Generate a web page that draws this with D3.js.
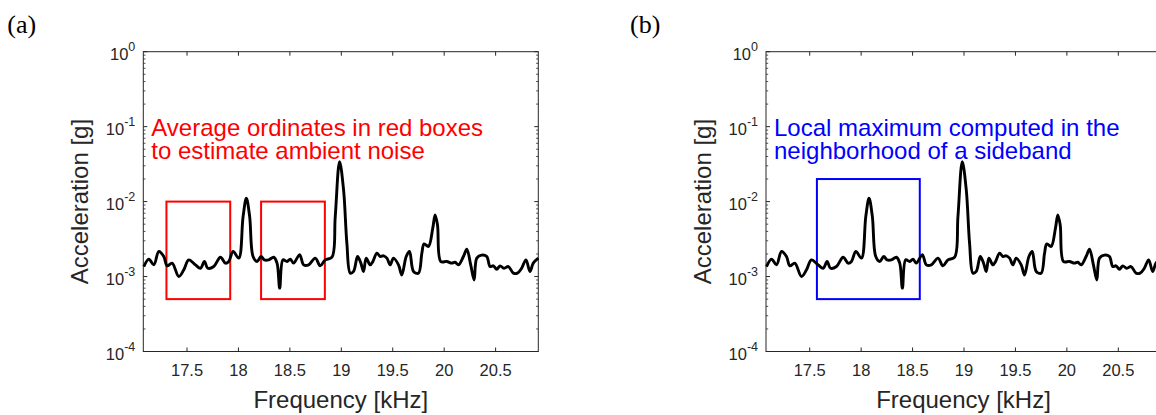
<!DOCTYPE html>
<html>
<head>
<meta charset="utf-8">
<script src="https://cdn.jsdelivr.net/npm/d3@7"></script>
<style>
  body { margin: 0; background: #fff; }
  svg { display: block; }
  text { font-family: "Liberation Sans", Arial, sans-serif; }
</style>
</head>
<body>
<div class="container"></div>
<script>
// spectrum (same curve in both panels)
var freq = [17.080, 17.129, 17.177, 17.226, 17.274, 17.307, 17.355, 17.420, 17.469, 17.517,
  17.582, 17.631, 17.669, 17.702, 17.760, 17.825, 17.873, 17.906, 17.948, 18.003,
  18.045, 18.077, 18.109, 18.142, 18.181, 18.220, 18.252, 18.294, 18.343, 18.375,
  18.401, 18.433, 18.472, 18.504, 18.536, 18.595, 18.634, 18.682, 18.747, 18.795,
  18.844, 18.909, 18.941, 18.983, 19.022, 19.054, 19.087, 19.119, 19.158, 19.190,
  19.216, 19.242, 19.281, 19.307, 19.346, 19.378, 19.410, 19.443, 19.475, 19.507,
  19.556, 19.588, 19.631, 19.663, 19.702, 19.750, 19.783, 19.805, 19.847, 19.889,
  19.912, 19.935, 19.967, 20.025, 20.074, 20.106, 20.139, 20.187, 20.220, 20.258,
  20.291, 20.317, 20.365, 20.414, 20.446, 20.478, 20.511, 20.543, 20.582, 20.624,
  20.673, 20.712, 20.753, 20.795, 20.834, 20.866, 20.915];
var accel = [1.36e-3, 1.71e-3, 1.43e-3, 2.16e-3, 1.85e-3, 1.39e-3, 1.51e-3, 1.00e-3, 1.23e-3, 1.67e-3,
  1.43e-3, 1.29e-3, 1.59e-3, 1.29e-3, 1.36e-3, 1.81e-3, 1.51e-3, 1.59e-3, 2.16e-3, 1.76e-3,
  6.3e-3, 1.11e-2, 6.3e-3, 1.85e-3, 1.59e-3, 1.85e-3, 1.67e-3, 1.67e-3, 1.81e-3, 1.51e-3,
  7.0e-4, 1.67e-3, 1.59e-3, 1.71e-3, 1.51e-3, 1.95e-3, 1.43e-3, 1.43e-3, 1.76e-3, 1.39e-3,
  1.67e-3, 1.81e-3, 6.3e-3, 3.42e-2, 1.43e-2, 2.79e-3, 1.11e-3, 1.17e-3, 1.85e-3, 1.51e-3,
  1.17e-3, 1.76e-3, 1.43e-3, 1.59e-3, 2.05e-3, 1.85e-3, 1.89e-3, 1.76e-3, 1.43e-3, 1.76e-3,
  1.43e-3, 1.05e-3, 1.85e-3, 2.16e-3, 1.17e-3, 1.11e-3, 2.05e-3, 2.73e-3, 2.52e-3, 4.42e-3,
  6.65e-3, 4.89e-3, 1.59e-3, 1.59e-3, 1.51e-3, 1.55e-3, 1.43e-3, 1.85e-3, 2.32e-3, 1.43e-3,
  9.0e-4, 1.76e-3, 1.93e-3, 1.85e-3, 1.36e-3, 1.39e-3, 1.25e-3, 1.39e-3, 1.29e-3, 1.36e-3,
  1.11e-3, 1.11e-3, 1.29e-3, 1.67e-3, 1.17e-3, 1.51e-3, 1.76e-3];

var xTicks = [17.5, 18, 18.5, 19, 19.5, 20, 20.5];
var yExps = [0, -1, -2, -3, -4];
var xDomain = [17.075, 20.915];

// annotation boxes [x0, x1, y0, y1]
var redBoxes = [[17.30, 17.92, 5e-4, 1e-2], [18.22, 18.84, 5e-4, 1e-2]];
var blueBoxes = [[17.57, 18.57, 5e-4, 2e-2]];
var redNote = ["Average ordinates in red boxes", "to estimate ambient noise"];
var blueNote = ["Local maximum computed in the", "neighborhood of a sideband"];

var W = 1156, H = 415;
var plotTop = 51.7, plotBottom = 351.5, pw = 395;
var axisColor = "#262626";

var svg = d3.select(".container").append("svg")
  .attr("width", W).attr("height", H);

function panel(left, letter, boxes, boxColor, note) {
  var x = d3.scaleLinear().domain(xDomain).range([left, left + pw]);
  var y = d3.scaleLog().domain([1e-4, 1]).range([plotBottom, plotTop]);
  var g = svg.append("g");

  // panel letter
  svg.append("text")
    .attr("x", left - 136).attr("y", 33)
    .style("font-family", "'Liberation Serif', 'Times New Roman', serif")
    .style("font-size", "26px")
    .attr("fill", "#000")
    .text("(" + letter + ")");

  // ticks (inward, all four sides)
  g.append("g").selectAll("line").data(xTicks).enter().append("line")
    .attr("x1", d => x(d)).attr("x2", d => x(d))
    .attr("y1", plotBottom).attr("y2", plotBottom - 4)
    .attr("stroke", axisColor);
  g.append("g").selectAll("line").data(xTicks).enter().append("line")
    .attr("x1", d => x(d)).attr("x2", d => x(d))
    .attr("y1", plotTop).attr("y2", plotTop + 4)
    .attr("stroke", axisColor);

  var minor = [];
  yExps.slice(1).forEach(e => {
    for (var k = 2; k <= 9; k++) minor.push(k * Math.pow(10, e));
  });
  [[left, 1], [left + pw, -1]].forEach(s => {
    g.append("g").selectAll("line").data(yExps).enter().append("line")
      .attr("x1", s[0]).attr("x2", s[0] + s[1] * 4)
      .attr("y1", d => y(Math.pow(10, d))).attr("y2", d => y(Math.pow(10, d)))
      .attr("stroke", axisColor);
    g.append("g").selectAll("line").data(minor).enter().append("line")
      .attr("x1", s[0]).attr("x2", s[0] + s[1] * 2.2)
      .attr("y1", d => y(d)).attr("y2", d => y(d))
      .attr("stroke", axisColor).attr("stroke-width", 0.8);
  });

  // box
  g.append("rect")
    .attr("x", left).attr("y", plotTop)
    .attr("width", pw).attr("height", plotBottom - plotTop)
    .attr("fill", "none").attr("stroke", axisColor).attr("stroke-width", 1);

  // tick labels
  g.append("g").selectAll("text").data(xTicks).enter().append("text")
    .attr("x", d => x(d)).attr("y", plotBottom + 24.5)
    .attr("text-anchor", "middle")
    .style("font-size", "16.5px").attr("fill", axisColor)
    .text(d => d);

  var yl = g.append("g").selectAll("text").data(yExps).enter().append("text")
    .attr("x", left - 8).attr("y", d => y(Math.pow(10, d)) + 8)
    .attr("text-anchor", "end")
    .style("font-size", "16.5px").attr("fill", axisColor);
  yl.append("tspan").text("10");
  yl.append("tspan").attr("dy", -9).style("font-size", "12.5px").text(d => d);

  // axis labels
  g.append("text")
    .attr("x", left + pw / 2).attr("y", 408)
    .attr("text-anchor", "middle")
    .style("font-size", "24px").attr("fill", axisColor)
    .text("Frequency [kHz]");
  g.append("text")
    .attr("transform", "translate(" + (left - 55) + "," + ((plotTop + plotBottom) / 2) + ") rotate(-90)")
    .attr("text-anchor", "middle")
    .style("font-size", "24px").attr("fill", axisColor)
    .text("Acceleration [g]");

  // annotation boxes
  g.append("g").selectAll("rect").data(boxes).enter().append("rect")
    .attr("x", d => x(d[0])).attr("y", d => y(d[3]))
    .attr("width", d => x(d[1]) - x(d[0]))
    .attr("height", d => y(d[2]) - y(d[3]))
    .attr("fill", "none").attr("stroke", boxColor).attr("stroke-width", 2);

  // spectrum
  var line = d3.line()
    .x((d, i) => x(freq[i]))
    .y(d => y(d))
    .curve(d3.curveCatmullRom.alpha(0.5));
  g.append("path")
    .attr("d", line(accel))
    .attr("fill", "none").attr("stroke", "#000")
    .attr("stroke-width", 2.9).attr("stroke-linejoin", "round");

  // note
  g.append("g").selectAll("text").data(note).enter().append("text")
    .attr("x", left + 8).attr("y", (d, i) => 136 + i * 22.5)
    .style("font-size", "24px").attr("fill", boxColor)
    .text(d => d);
}

panel(143.3, "a", redBoxes, "#ff0000", redNote);
panel(766, "b", blueBoxes, "#0000ff", blueNote);
</script>
</body>
</html>
